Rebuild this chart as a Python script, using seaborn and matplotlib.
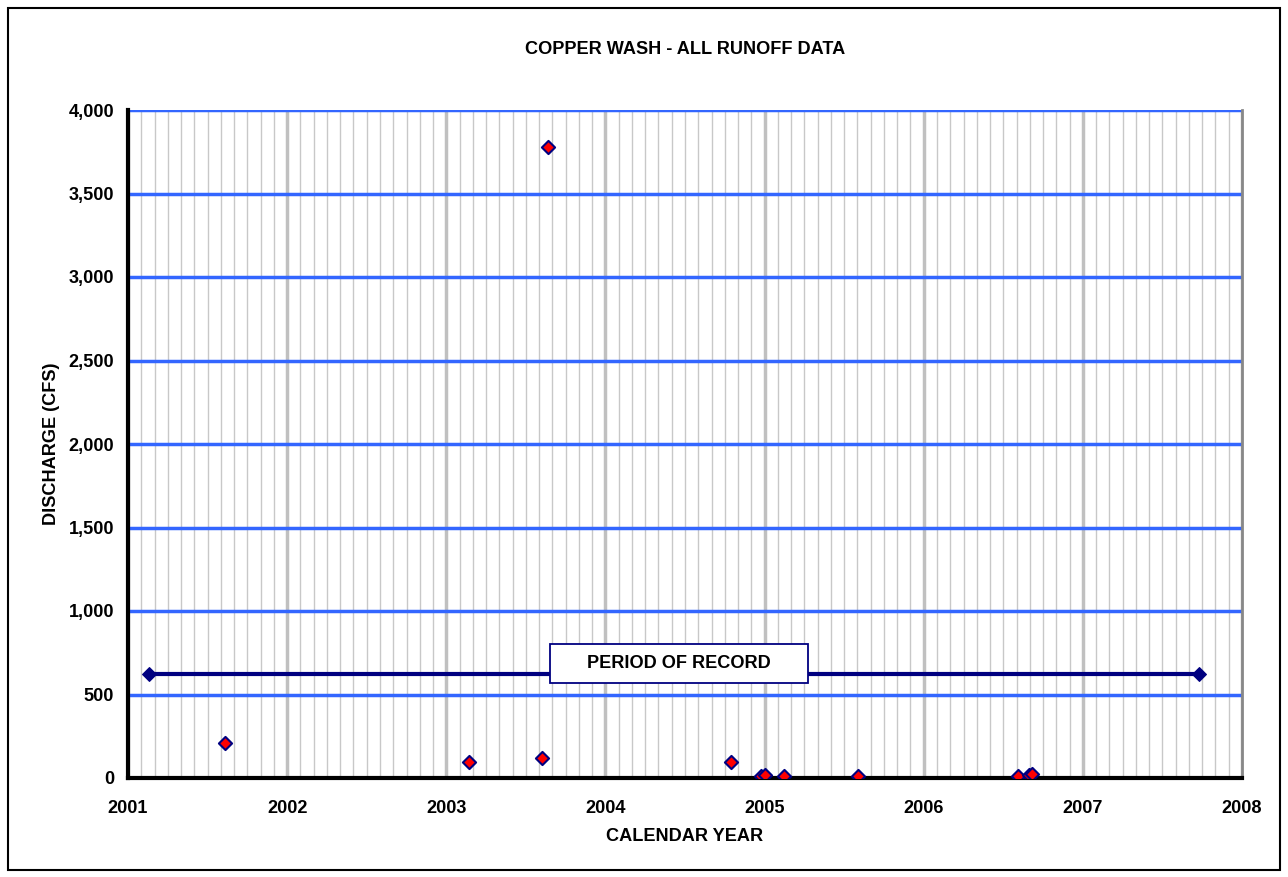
import matplotlib
matplotlib.use("Agg")
import matplotlib.pyplot as plt
import matplotlib.patches as mpatches
from matplotlib.ticker import MultipleLocator, FuncFormatter
import seaborn as sns
import pandas as pd

# Data (decimal year, discharge in cfs)
event_year = [2001.61, 2003.14, 2003.60, 2003.64, 2004.79, 2004.98, 2005.00,
              2005.12, 2005.59, 2006.59, 2006.66, 2006.68]
discharge = [210, 96, 120, 3778, 96, 10, 18, 12, 12, 10, 18, 22]
record_year = [2001.13, 2007.73]
record_level = [623, 623]

title = "COPPER WASH - ALL RUNOFF DATA"
xlabel = "CALENDAR YEAR"
ylabel = "DISCHARGE (CFS)"
record_text = "PERIOD OF RECORD"

sns.set_theme(style="white")
plt.rcParams['font.family'] = ['Liberation Sans', 'DejaVu Sans']
plt.rcParams['text.color'] = 'black'
plt.rcParams['axes.labelcolor'] = 'black'
plt.rcParams['xtick.color'] = 'black'
plt.rcParams['ytick.color'] = 'black'

FS = 13.1

fig = plt.figure(figsize=(12.88, 8.77), dpi=100)
ax = fig.add_axes([128/1288, 1-778/877, (1242-128)/1288, (778-110)/877])

ev = pd.DataFrame({"year": event_year, "q": discharge})
rec = pd.DataFrame({"year": record_year, "q": record_level})

ax.set_xlim(2001, 2008)
ax.set_ylim(0, 4000)

# grid
ax.xaxis.set_major_locator(MultipleLocator(1))
ax.xaxis.set_minor_locator(MultipleLocator(1/12))
ax.yaxis.set_major_locator(MultipleLocator(500))
ax.grid(which='minor', axis='x', color='#c8c8c8', lw=1.0, zorder=0)
ax.grid(which='major', axis='x', color='#c0c0c0', lw=2.5, zorder=0)
ax.grid(which='major', axis='y', color='#3366ff', lw=2.5, zorder=1)
ax.set_axisbelow(True)

sns.lineplot(data=rec, x="year", y="q", ax=ax, color='#000080', lw=3,
             marker='D', markersize=7, markeredgecolor='#000080', zorder=3, legend=False)
sns.scatterplot(data=ev, x="year", y="q", ax=ax, marker='D', s=45,
                color='#ff0000', edgecolor='#000080', linewidth=1.5, zorder=4, legend=False)

# label box for the period-of-record line
ax.add_patch(mpatches.Rectangle((2003.652, 569), 2005.273 - 2003.652, 802 - 569,
                                facecolor='white', edgecolor='#000080', lw=1.3, zorder=5))
ax.text(2004.462, 687, record_text, ha='center', va='center', fontsize=FS, fontweight='bold',
        color='black', zorder=6)

ax.yaxis.set_major_formatter(FuncFormatter(lambda v, p: f"{int(v):,}"))
ax.xaxis.set_major_formatter(FuncFormatter(lambda v, p: f"{int(round(v))}"))
ax.tick_params(axis='both', which='major', direction='out', length=6, width=2.5,
               color='black', labelsize=FS, pad=6)
ax.tick_params(axis='x', which='minor', length=0)
for lab in ax.get_xticklabels() + ax.get_yticklabels():
    lab.set_fontweight('bold')
ax.tick_params(axis='x', pad=10)
ax.tick_params(axis='y', pad=4)

ax.set_xlabel(xlabel, fontsize=FS, fontweight='bold', labelpad=8)
ax.set_ylabel(ylabel, fontsize=FS, fontweight='bold', labelpad=6)
ax.set_title(title, fontsize=FS, fontweight='bold', pad=40)

for s in ['left', 'bottom']:
    ax.spines[s].set_color('black')
    ax.spines[s].set_linewidth(3)
for s in ['top', 'right']:
    ax.spines[s].set_color('#888888')
    ax.spines[s].set_linewidth(2)
ax.spines['top'].set_visible(False)

fig.add_artist(mpatches.Rectangle((8/1288, 1-870/877), 1272/1288, 862/877,
                                  transform=fig.transFigure, fill=False,
                                  edgecolor='black', lw=1.5))

fig.savefig("out.png", dpi=100)
